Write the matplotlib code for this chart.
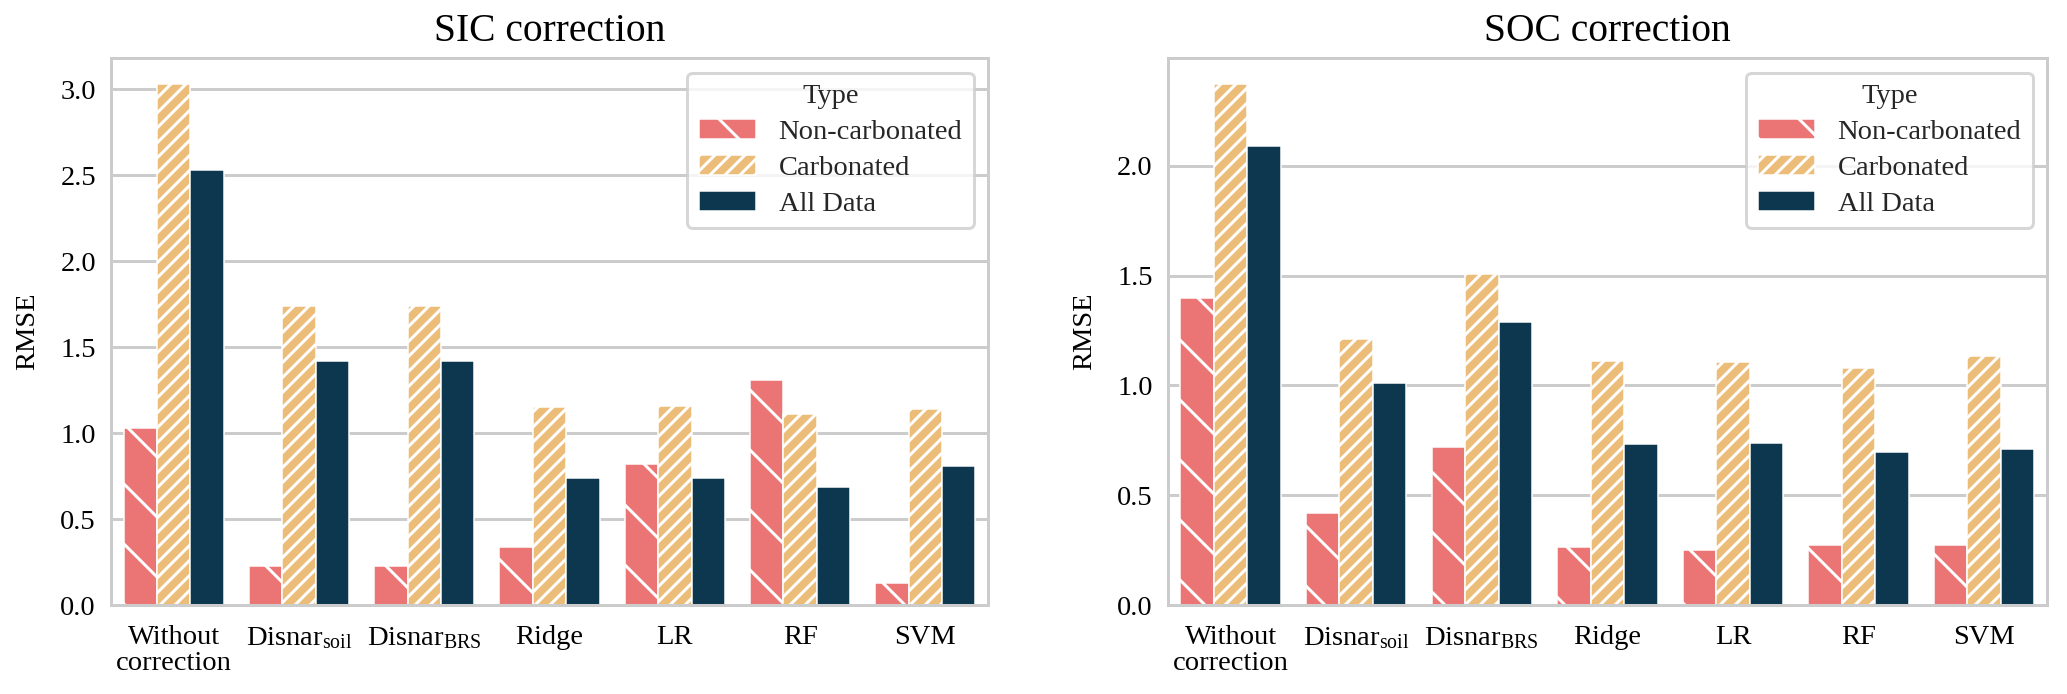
import numpy as np
import matplotlib
matplotlib.use("Agg")
import matplotlib.pyplot as plt
import seaborn as sns
from matplotlib.patches import Patch

# data
methods = ["Without\ncorrection", r"Disnar$_{\mathrm{soil}}$", r"Disnar$_{\mathrm{BRS}}$",
           "Ridge", "LR", "RF", "SVM"]
types = ["Non-carbonated", "Carbonated", "All Data"]

sic_noncarb = [1.03, 0.23, 0.23, 0.34, 0.82, 1.31, 0.13]
sic_carb = [3.03, 1.74, 1.74, 1.15, 1.16, 1.115, 1.14]
sic_all = [2.53, 1.42, 1.42, 0.74, 0.74, 0.69, 0.81]

soc_noncarb = [1.40, 0.42, 0.72, 0.265, 0.253, 0.276, 0.273]
soc_carb = [2.37, 1.21, 1.505, 1.11, 1.106, 1.08, 1.136]
soc_all = [2.09, 1.01, 1.29, 0.735, 0.74, 0.695, 0.71]

colors = ["#EB7474", "#ECBD79", "#0C374E"]
hatches = ["\\\\", "////////", ""]

sns.set_theme(style="whitegrid")
plt.rcParams["font.family"] = ["Liberation Serif", "DejaVu Serif"]
plt.rcParams["mathtext.fontset"] = "custom"
plt.rcParams["mathtext.rm"] = "Liberation Serif"
plt.rcParams["mathtext.it"] = "Liberation Serif:italic"
plt.rcParams["hatch.linewidth"] = 0.6
plt.rcParams["axes.edgecolor"] = "#cccccc"
plt.rcParams["grid.color"] = "#cccccc"

fs = 5.7
dpi = 360
fig = plt.figure(figsize=(2067 / dpi, 694 / dpi), dpi=dpi)
ax1 = fig.add_axes([0.0537, 0.128, 0.4243, 0.788])
ax2 = fig.add_axes([0.565, 0.128, 0.4253, 0.788])


def draw(ax, series, title):
    x = np.arange(len(methods))
    w = 0.8 / len(series)
    for i, vals in enumerate(series):
        ax.bar(x + (i - 1) * w, vals, width=w, color=colors[i], hatch=hatches[i],
               edgecolor="white", linewidth=0.3, label=types[i], zorder=2)
    ax.set_xlim(-0.5, len(methods) - 0.5)
    ax.set_xticks(x)
    ax.set_xticklabels(methods, fontsize=fs, color="black", linespacing=1.05)
    ax.tick_params(axis="both", length=0)
    ax.tick_params(axis="y", labelsize=fs, labelcolor="black", pad=3)
    ax.tick_params(axis="x", pad=4)
    ax.set_ylabel("RMSE", fontsize=fs, color="black", labelpad=4)
    ax.set_title(title, fontsize=7.9, color="black", pad=3.5)
    ax.grid(axis="x", visible=False)
    ax.set_axisbelow(True)
    for s in ax.spines.values():
        s.set_linewidth(0.6)
    ax.grid(axis="y", linewidth=0.6)
    handles = [Patch(facecolor=colors[i], hatch=hatches[i], edgecolor="white",
                     linewidth=0.3, label=types[i]) for i in range(3)]
    leg = ax.legend(handles=handles, title="Type", loc="upper right", fontsize=fs,
                    title_fontsize=fs, frameon=True, labelspacing=0.35)
    leg.get_frame().set_linewidth(0.6)


draw(ax1, [sic_noncarb, sic_carb, sic_all], "SIC correction")
draw(ax2, [soc_noncarb, soc_carb, soc_all], "SOC correction")

fig.savefig("out.png", dpi=dpi)
